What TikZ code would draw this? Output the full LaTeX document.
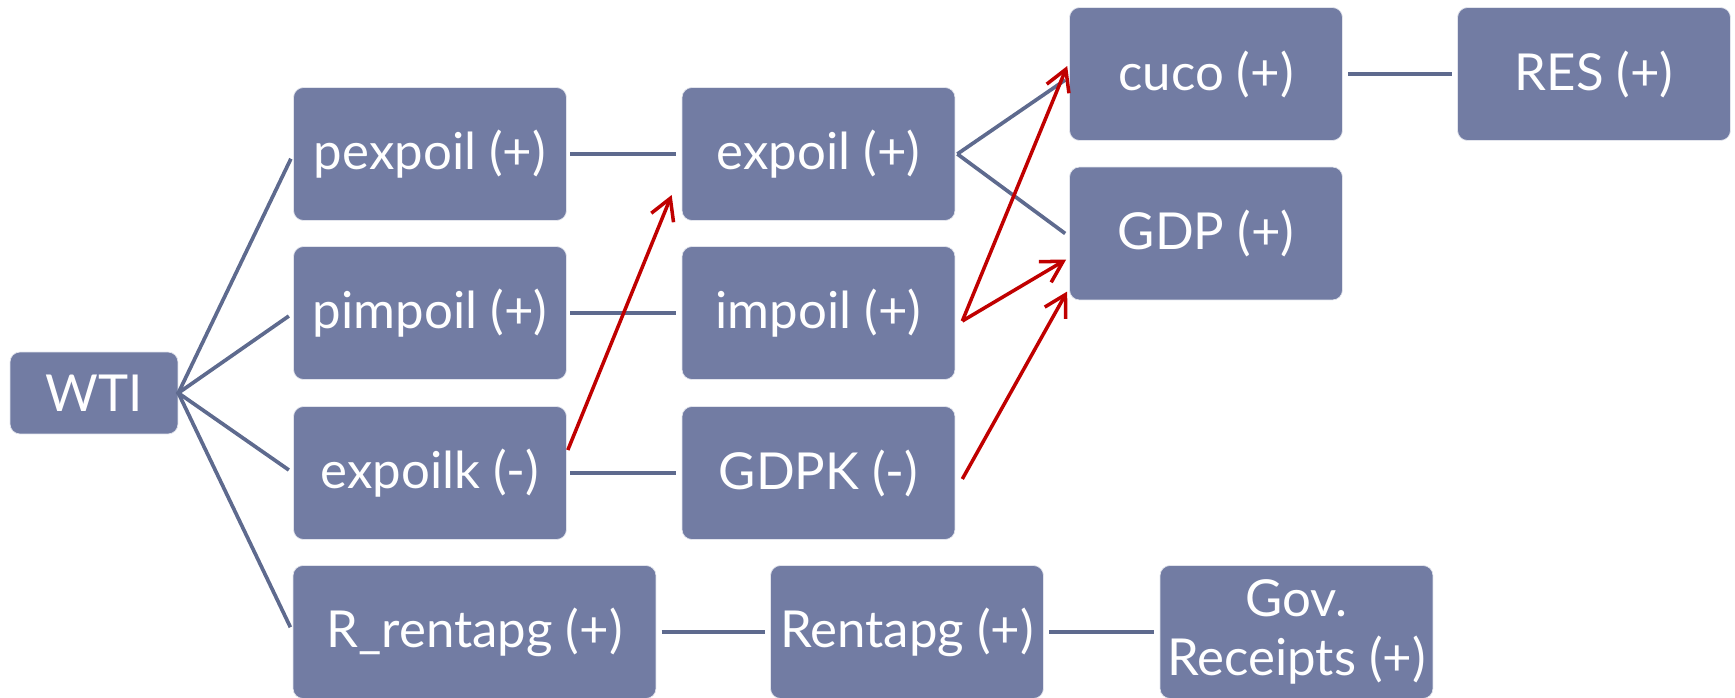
\documentclass[tikz,border=0pt]{standalone}
\usepackage{fontspec}
\setmainfont{Lato}
\usetikzlibrary{arrows.meta,calc}
\definecolor{boxblue}{RGB}{114,124,163}
\definecolor{wireblue}{RGB}{94,106,142}
\definecolor{linkred}{RGB}{192,0,0}
\tikzset{%
	block/.style = {fill=boxblue, draw=white!80!boxblue, rounded corners=0.2cm,
		text=white, minimum width=5.46cm, minimum height=2.66cm, inner sep=0pt,
		align=center, font=\fontsize{29}{34}\selectfont},
	tie/.style   = {draw=wireblue, line width=2.1pt}, % plain link
	push/.style  = {draw=linkred, line width=2pt,
		-{Straight Barb[length=0.42cm,width=0.48cm]}} % red arrow
}

\begin{document}
\begin{tikzpicture}[x=0.02cm,y=-0.02cm]
			\clip (0,0) rectangle (1735,697);
			\node[block, minimum width=3.36cm, minimum height=1.64cm] (wti) at (94,393) {WTI};
			\node[block] (pexpoil) at (430,154) {pexpoil (+)};
			\node[block] (pimpoil) at (430,313) {pimpoil (+)};
			\node[block] (expoilk) at (430,473) {expoilk (-)};
			\node[block] (expoil) at (818.5,154) {expoil (+)};
			\node[block] (impoil) at (818.5,313) {impoil (+)};
			\node[block] (gdpk) at (818.5,473) {GDPK (-)};
			\node[block] (cuco) at (1206,74) {cuco (+)};
			\node[block] (gdp) at (1206,233.5) {GDP (+)};
			\node[block] (res) at (1594,74) {RES (+)};
			\node[block, minimum width=7.26cm] (rrentapg) at (474.5,632) {R\_rentapg (+)};
			\node[block] (rentapg) at (907,632) {Rentapg (+)};
			\node[block] (gov) at (1296.5,632) {Gov.\\Receipts (+)};

			\draw[tie, shorten <=-1pt, shorten >=3pt] (wti.east) -- (pexpoil.west);
			\draw[tie, shorten <=-1pt, shorten >=3pt] (wti.east) -- (pimpoil.west);
			\draw[tie, shorten <=-1pt, shorten >=3pt] (wti.east) -- (expoilk.west);
			\draw[tie, shorten <=-1pt, shorten >=3pt] (wti.east) -- (rrentapg.west);
			\draw[tie, shorten <=2pt, shorten >=3pt] (pexpoil) -- (expoil);
			\draw[tie, shorten <=2pt, shorten >=3pt] (pimpoil) -- (impoil);
			\draw[tie, shorten <=2pt, shorten >=3pt] (expoilk) -- (gdpk);
			\draw[tie] ($(expoil.east)+(2,0)$) -- ($(cuco.west)+(-4,6)$);
			\draw[tie] ($(expoil.east)+(2,0)$) -- ($(gdp.west)+(-4,0)$);
			\draw[tie, shorten <=3pt, shorten >=3pt] (cuco) -- (res);
			\draw[tie, shorten <=3pt, shorten >=3pt] (rrentapg) -- (rentapg);
			\draw[tie, shorten <=3pt, shorten >=3pt] (rentapg) -- (gov);

			\draw[push] ($(expoilk.east)+(1,-23)$) -- ($(expoil.west)+(-10,41)$);
			\draw[push] ($(impoil.east)+(7,8)$) -- ($(cuco.west)+(-2,-8)$);
			\draw[push] ($(impoil.east)+(7,8)$) -- ($(gdp.west)+(-3,26)$);
			\draw[push] ($(gdpk.east)+(7,6)$) -- ($(gdp.west)+(-2,58)$);
		\end{tikzpicture}
\end{document}
